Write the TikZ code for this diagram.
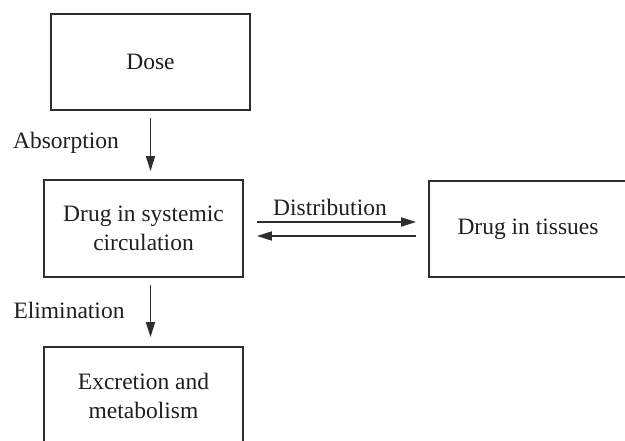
\documentclass[tikz,border=0pt]{standalone}
\usepackage{fontspec}
\setmainfont{Liberation Serif}
\usetikzlibrary{arrows.meta,calc}
\begin{document}
\begin{tikzpicture}[x=1pt,y=-1pt,
  every node/.style={font=\fontsize{23.5}{29}\selectfont, text=black!88},
  box/.style={draw=black!82, line width=1.8pt, minimum width=199pt, minimum height=97pt, align=center, inner sep=0pt},
  arr/.style={draw=black!82, line width=1.8pt, -{Triangle[length=15pt,width=9pt]}},
  lbl/.style={inner sep=0pt}]
\useasboundingbox (0,0) rectangle (625,440);
\clip (0,0) rectangle (625,440);
\node[box, minimum height=96pt] (dose) at (150.5,62) {Dose};
\node[box] (sys) at (143.5,228.5) {Drug in systemic\\circulation};
\node[box] (exc) at (143.5,395.5) {Excretion and\\metabolism};
\node[box, minimum width=198pt, minimum height=96pt] (tis) at (528,229) {Drug in tissues};
\draw[arr, shorten <=7pt, shorten >=8pt] (dose.south) -- (dose.south |- sys.north);
\draw[arr, shorten <=7pt, shorten >=9pt] (dose.south |- sys.south) -- (dose.south |- exc.north);
\draw[arr, shorten <=13pt, shorten >=12pt] ($(sys.east)+(0,-6.5)$) -- ($(sys.east -| tis.west)+(0,-6.5)$);
\draw[arr, shorten <=12pt, shorten >=13pt] ($(sys.east -| tis.west)+(0,7.5)$) -- ($(sys.east)+(0,7.5)$);
\node[lbl] (abs) at (66,143) {Absorption};
\node[lbl] (eli) at (69,310) {Elimination};
\node[lbl] (dis) at (330,207) {Distribution};
\end{tikzpicture}
\end{document}
